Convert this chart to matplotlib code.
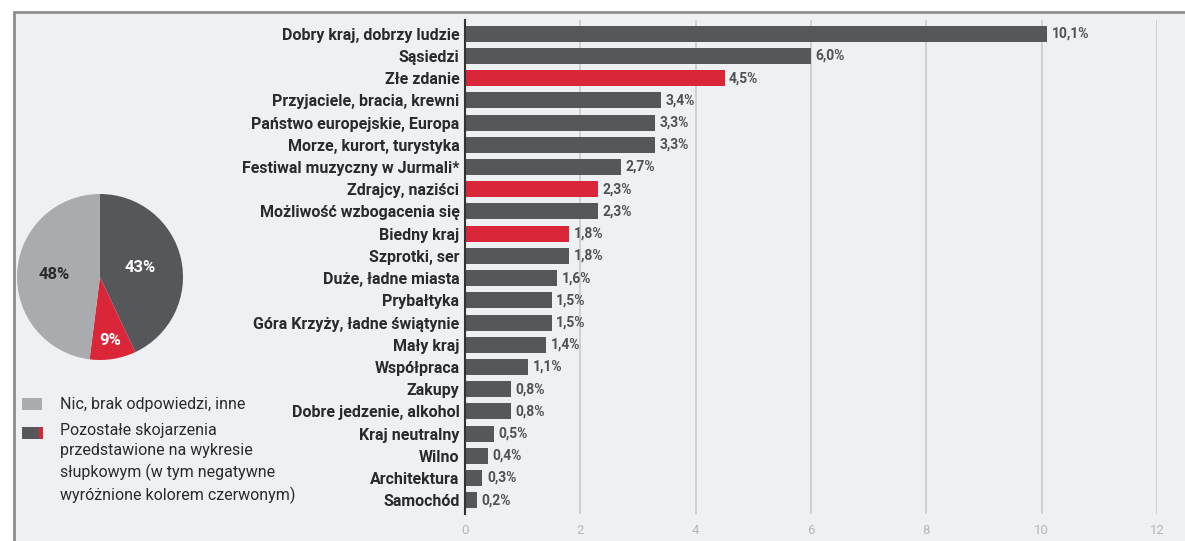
import matplotlib.pyplot as plt
from matplotlib.patches import Rectangle
import numpy as np

plt.rcParams['font.family'] = ['Roboto', 'DejaVu Sans']

categories = ['Dobry kraj, dobrzy ludzie', 'Sąsiedzi', 'Złe zdanie',
              'Przyjaciele, bracia, krewni', 'Państwo europejskie, Europa',
              'Morze, kurort, turystyka', 'Festiwal muzyczny w Jurmali*',
              'Zdrajcy, naziści', 'Możliwość wzbogacenia się', 'Biedny kraj',
              'Szprotki, ser', 'Duże, ładne miasta', 'Prybałtyka',
              'Góra Krzyży, ładne świątynie', 'Mały kraj', 'Współpraca',
              'Zakupy', 'Dobre jedzenie, alkohol', 'Kraj neutralny', 'Wilno',
              'Architektura', 'Samochód']
values = [10.1, 6.0, 4.5, 3.4, 3.3, 3.3, 2.7, 2.3, 2.3, 1.8, 1.8, 1.6, 1.5,
          1.5, 1.4, 1.1, 0.8, 0.8, 0.5, 0.4, 0.3, 0.2]
negative = ['Złe zdanie', 'Zdrajcy, naziści', 'Biedny kraj']

pie_values = [43, 9, 48]
pie_labels = ['43%', '9%', '48%']
legend_items = ['Nic, brak odpowiedzi, inne',
                'Pozostałe skojarzenia\nprzedstawione na wykresie\n'
                'słupkowym (w tym negatywne\nwyróżnione kolorem czerwonym)']

DARK = '#55575b'
RED = '#d92739'
GRAY = '#a9abae'
BG = '#eef1f4'

W, H = 1185, 541
fig = plt.figure(figsize=(W / 100, H / 100), dpi=100)
fig.patch.set_facecolor('white')
fig.patches.append(Rectangle((14 / W, -0.05), 1.2, (H - 12) / H + 0.05,
                             transform=fig.transFigure, facecolor=BG,
                             edgecolor='#8e8e8e', linewidth=2, zorder=-5))

# bar chart
ax = fig.add_axes([465 / W, 27 / H, (1157 - 465) / W, 494 / H])
ax.set_facecolor('none')
y = np.arange(len(categories))
colors = [RED if c in negative else DARK for c in categories]
ax.barh(y, values, height=0.72, color=colors, zorder=3)
for yi, v in zip(y, values):
    ax.text(v + 0.08, yi, f'{v:.1f}%'.replace('.', ','), va='center',
            ha='left', fontsize=10, color='#4f5154', fontweight='bold',
            zorder=4)
ax.set_xlim(0, 12)
ax.set_ylim(21.62, -0.62)
ax.set_xticks(range(0, 13, 2))
ax.set_yticks(y)
ax.set_yticklabels(categories, fontsize=11.5, fontweight='bold',
                   color='#2a2a2a')
ax.tick_params(axis='y', length=0, pad=4)
ax.tick_params(axis='x', length=0, pad=7, labelsize=9.5, labelcolor='#b5b7ba')
ax.grid(axis='x', color='#c9cbce', linewidth=1.2, zorder=0)
for s in ['top', 'right', 'bottom']:
    ax.spines[s].set_visible(False)
ax.spines['left'].set_color('#333333')
ax.spines['left'].set_linewidth(1.5)
ax.spines['left'].set_zorder(5)

# pie
pax = fig.add_axes([17 / W, 181 / H, 166 / W, 166 / H])
wedges, _ = pax.pie(pie_values, colors=[DARK, RED, GRAY], startangle=90,
                    counterclock=False, radius=1.0)
dist = [0.5, 0.78, 0.55]
tcol = ['white', 'white', '#2a2a2a']
for w, lab, d, c in zip(wedges, pie_labels, dist, tcol):
    ang = np.deg2rad((w.theta1 + w.theta2) / 2)
    pax.text(d * np.cos(ang), d * np.sin(ang), lab, ha='center',
             va='center', fontsize=12, fontweight='bold', color=c)
pax.set_xlim(-1, 1)
pax.set_ylim(-1, 1)
pax.set_aspect('equal')

# legend
fig.patches.append(Rectangle((22 / W, (H - 410) / H), 20 / W, 12 / H,
                             transform=fig.transFigure, facecolor=GRAY,
                             edgecolor='none', zorder=2))
fig.patches.append(Rectangle((22 / W, (H - 439) / H), 17 / W, 12 / H,
                             transform=fig.transFigure, facecolor=DARK,
                             edgecolor='none', zorder=2))
fig.patches.append(Rectangle((39 / W, (H - 439) / H), 4 / W, 12 / H,
                             transform=fig.transFigure, facecolor=RED,
                             edgecolor='none', zorder=2))
fig.text(60 / W, (H - 404) / H, legend_items[0], ha='left', va='center',
         fontsize=11.5, color='#2a2a2a')
fig.text(60 / W, (H - 423) / H, legend_items[1], ha='left', va='top',
         fontsize=11.5, color='#2a2a2a', linespacing=1.42)

fig.savefig('out.png', dpi=100)
